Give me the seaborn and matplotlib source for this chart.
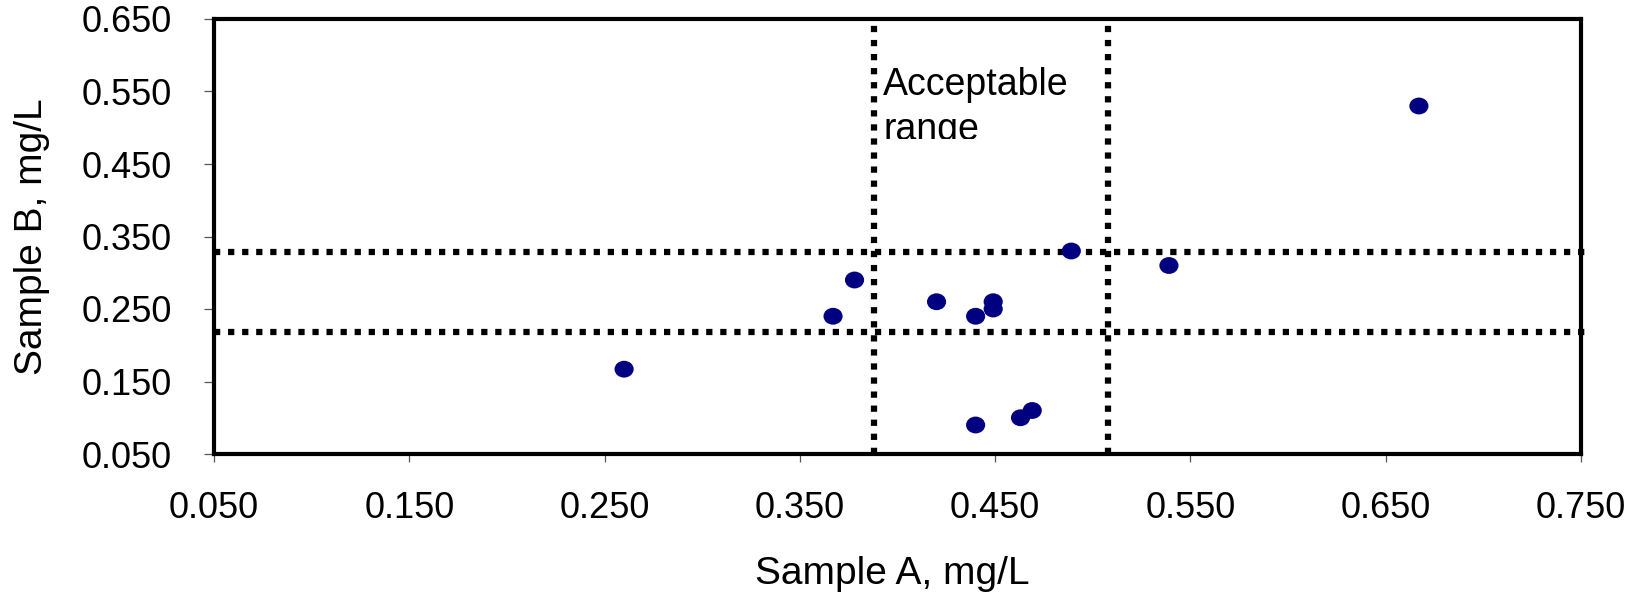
import numpy as np
import pandas as pd
import matplotlib
matplotlib.use("Agg")
import matplotlib.pyplot as plt
from matplotlib.path import Path
from matplotlib.transforms import Bbox, TransformedBbox
import seaborn as sns

# values
sample_a = [0.260, 0.367, 0.378, 0.420, 0.440, 0.449, 0.449, 0.440, 0.463, 0.469, 0.489, 0.539, 0.667]
sample_b = [0.167, 0.240, 0.290, 0.260, 0.240, 0.260, 0.250, 0.090, 0.100, 0.110, 0.330, 0.310, 0.530]
range_a = [0.388, 0.508]   # acceptable range for sample A
range_b = [0.218, 0.329]   # acceptable range for sample B
x_ticks = [0.05, 0.15, 0.25, 0.35, 0.45, 0.55, 0.65, 0.75]
y_ticks = [0.05, 0.15, 0.25, 0.35, 0.45, 0.55, 0.65]

df = pd.DataFrame({"Sample A": sample_a, "Sample B": sample_b})

sns.set_style("white")
plt.rcParams['font.family'] = ['Liberation Sans', 'DejaVu Sans']
plt.rcParams['text.color'] = 'black'
plt.rcParams['axes.labelcolor'] = 'black'

# slightly wide dot, like the old spreadsheet marker
circ = Path.unit_circle()
oval = Path(circ.vertices * np.array([1.0, 0.88]), circ.codes)

fig = plt.figure(figsize=(16.36, 5.95), dpi=100)
ax = fig.add_axes([214/1636, 1-454/595, (1581-214)/1636, (454-19)/595])

dot = dict(lw=4.5, color='black', linestyle=(0, (1.0, 1.25)), dash_capstyle='butt')
for yv in range_b:
    ax.axhline(yv, xmin=0, xmax=1.006, clip_on=False, zorder=2, **dot)
for xv in range_a:
    ax.axvline(xv, ymin=0, ymax=1.005, clip_on=False, zorder=2, **dot)

sns.scatterplot(data=df, x="Sample A", y="Sample B", ax=ax, color='#000080',
                marker=oval, s=190, edgecolor='none', linewidth=0, zorder=3, legend=False)

ax.set_xlim(0.05, 0.75)
ax.set_ylim(0.05, 0.65)
ax.set_xticks(x_ticks)
ax.set_yticks(y_ticks)
ax.set_xticklabels(['%.3f' % v for v in x_ticks])
ax.set_yticklabels(['%.3f' % v for v in y_ticks])
ax.tick_params(axis='y', direction='out', length=7.5, width=0.9, color='#555555',
               labelsize=26, labelcolor='black', pad=23, left=True)
ax.tick_params(axis='x', direction='out', length=6, width=0.9, color='#555555',
               labelsize=26, labelcolor='black', pad=21, bottom=True)

for sp in ax.spines.values():
    sp.set_visible(True)
    sp.set_color('black')
    sp.set_linewidth(3)

ax.set_xlabel('Sample A, mg/L', fontsize=28)
ax.set_ylabel('Sample B, mg/L', fontsize=28)
ax.xaxis.set_label_coords(0.496, -0.275)
ax.xaxis.label.set_va('center')
ax.yaxis.set_label_coords(-0.133, 0.5)
ax.yaxis.label.set_va('center')

# label inside the range band, cut off at the bottom as in the original
txt = ax.text(0.3926, 0.584, 'Acceptable\nrange', fontsize=27, ha='left', va='top',
              linespacing=1.32, zorder=4)
txt.set_clip_box(TransformedBbox(Bbox([[range_a[0], 0.484], [range_a[1], 0.66]]),
                                 ax.transData))
txt.set_clip_on(True)

fig.savefig('out.png', dpi=100)
